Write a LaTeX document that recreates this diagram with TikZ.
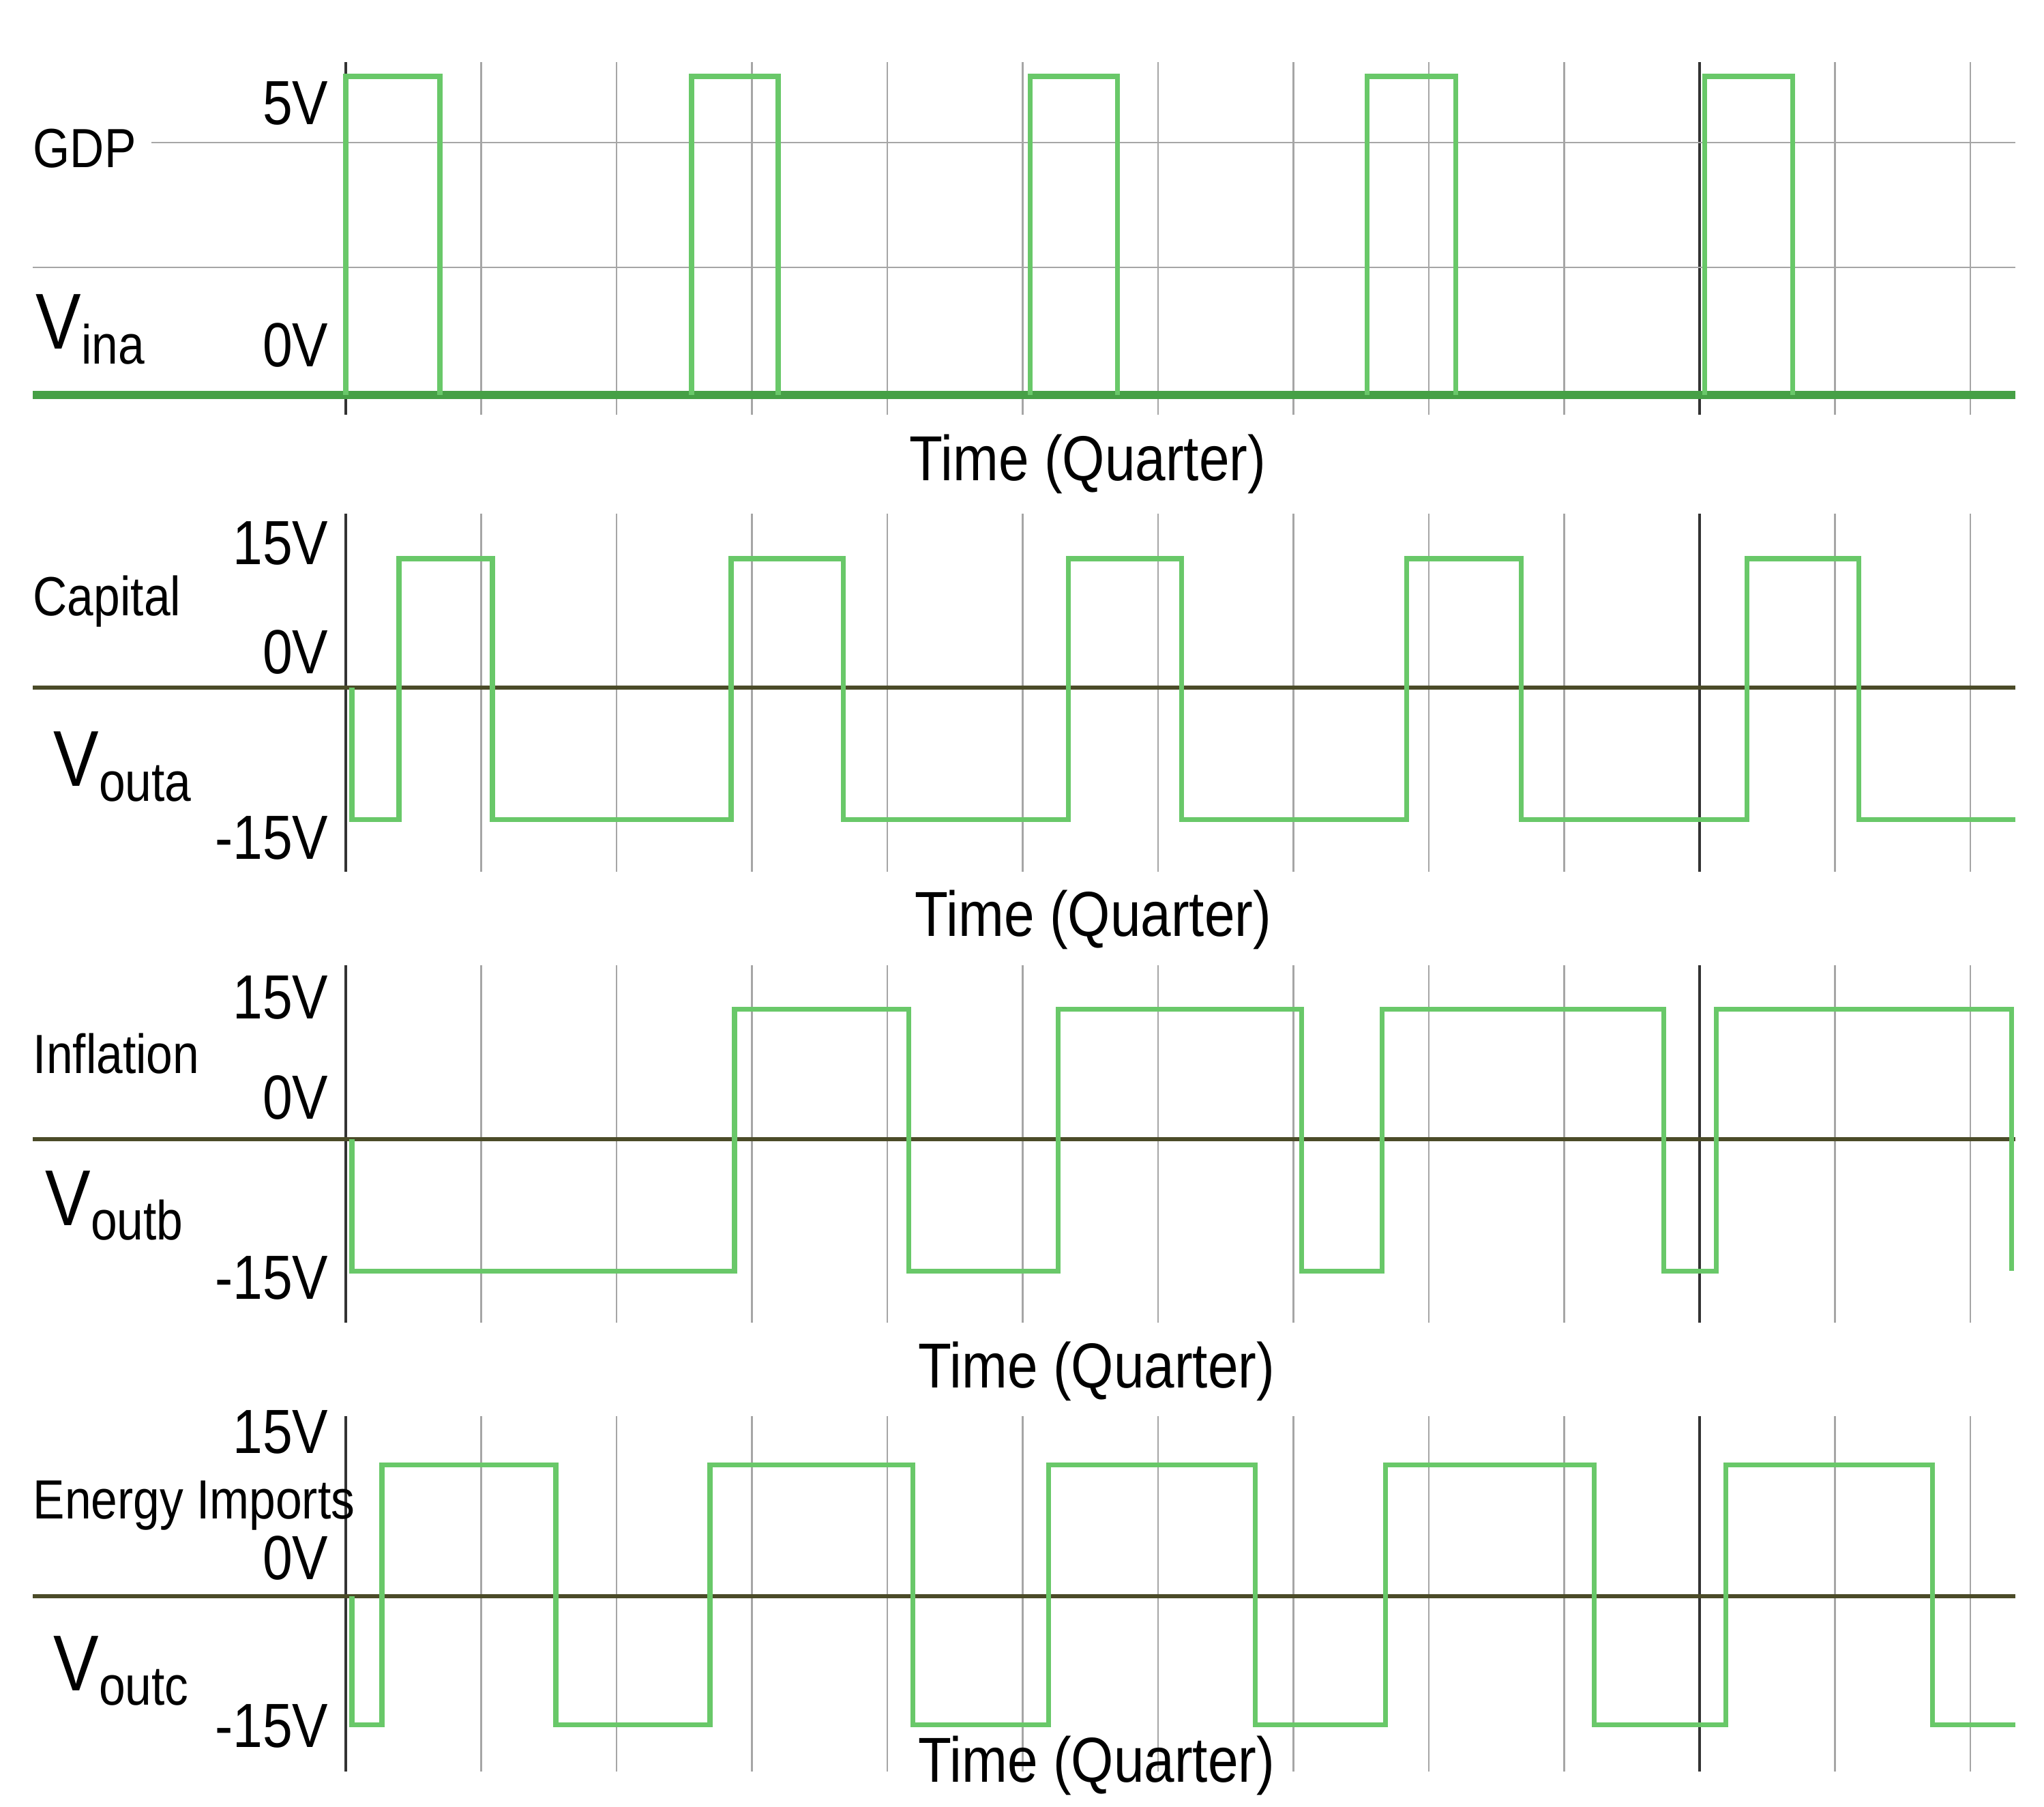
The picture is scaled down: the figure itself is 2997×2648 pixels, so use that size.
\documentclass[tikz,border=0pt]{standalone}
\usepackage{fontspec}
\setmainfont[FakeStretch=0.86]{Liberation Sans}
\definecolor{wv}{RGB}{105,200,105}
\definecolor{zc}{RGB}{75,75,40}
\definecolor{bc}{RGB}{70,160,70}
\begin{document}
\begin{tikzpicture}[x=0.01cm,y=-0.01cm,
  grid/.style={draw=gray!70,line width=0.6pt},
  axisv/.style={draw=black!80,line width=0.9pt},
  zero/.style={draw=zc,line width=1.8pt},
  wave/.style={draw=wv,line width=2pt,line join=miter},
  lbl/.style={inner sep=0pt,font=\fontsize{23}{25}\selectfont},
  tick/.style={inner sep=0pt,font=\fontsize{26}{28}\selectfont,anchor=east},
  vl/.style={inner sep=0pt,font=\fontsize{33}{35}\selectfont},
  tl/.style={inner sep=0pt,font=\fontsize{26.5}{28}\selectfont}]
\useasboundingbox[fill=white] (0,0) rectangle (2997,2648);
% ---------- vertical grid lines ----------
\foreach \t/\b in {91/608,753/1278,1415/1939,2076/2597}{
  \foreach \x in {705.5,904,1102.5,1301,1499.5,1698,1896.5,2095,2293.5,2690.5,2889}
    \draw[grid] (\x,\t) -- (\x,\b);
  \draw[axisv] (507,\t) -- (507,\b);
  \draw[axisv] (2492,\t) -- (2492,\b);
}
% ---------- panel 1 ----------
\draw[grid] (222,209) -- (2955,209);
\draw[grid] (48,392) -- (2955,392);
\draw[draw=bc,line width=3.2pt] (48,579) -- (2955,579);
\draw[wave] (507,579) -- (507,112) -- (645,112) -- (645,579)
  (1014,579) -- (1014,112) -- (1141,112) -- (1141,579)
  (1510,579) -- (1510,112) -- (1638,112) -- (1638,579)
  (2004,579) -- (2004,112) -- (2134,112) -- (2134,579)
  (2499,579) -- (2499,112) -- (2628,112) -- (2628,579);
\node[tick] (t1a) at (482,151) {5V};
\node[tick] (t1b) at (482,506) {0V};
\node[lbl,anchor=west] (gdp) at (48,218) {GDP};
\node[vl,anchor=west] (vina) at (52,483) {V{\fontsize{23}{25}\selectfont\raisebox{-6pt}{ina}}};
\node[tl] (time1) at (1595,680) {Time (Quarter)};
% ---------- panel 2 ----------
\draw[zero] (48,1008) -- (2955,1008);
\draw[wave] (516,1008) -- (516,1201) -- (585,1201) -- (585,819) -- (722,819) -- (722,1201)
  -- (1072,1201) -- (1072,819) -- (1236,819) -- (1236,1201) -- (1566,1201) -- (1566,819)
  -- (1732,819) -- (1732,1201) -- (2062,1201) -- (2062,819) -- (2230,819) -- (2230,1201)
  -- (2561,1201) -- (2561,819) -- (2725,819) -- (2725,1201) -- (2955,1201);
\node[tick] (t2a) at (482,796) {15V};
\node[tick] (t2b) at (482,956) {0V};
\node[tick] (t2c) at (482,1228) {-15V};
\node[lbl,anchor=west] (cap) at (48,882) {Capital};
\node[vl,anchor=west] (vouta) at (78,1124) {V{\fontsize{23}{25}\selectfont\raisebox{-6pt}{outa}}};
\node[tl] (time2) at (1603,1348) {Time (Quarter)};
% ---------- panel 3 ----------
\draw[zero] (48,1670) -- (2955,1670);
\draw[wave] (516,1670) -- (516,1863) -- (1077,1863) -- (1077,1479) -- (1332,1479) -- (1332,1863)
  -- (1551,1863) -- (1551,1479) -- (1908,1479) -- (1908,1863) -- (2026,1863) -- (2026,1479)
  -- (2439,1479) -- (2439,1863) -- (2516,1863) -- (2516,1479) -- (2949,1479) -- (2949,1863);
\node[tick] (t3a) at (482,1462) {15V};
\node[tick] (t3b) at (482,1609) {0V};
\node[tick] (t3c) at (482,1873) {-15V};
\node[lbl,anchor=west] (infl) at (48,1545) {Inflation};
\node[vl,anchor=west] (voutb) at (66,1767) {V{\fontsize{23}{25}\selectfont\raisebox{-6pt}{outb}}};
\node[tl] (time3) at (1608,2010) {Time (Quarter)};
% ---------- panel 4 ----------
\draw[zero] (48,2340) -- (2955,2340);
\draw[wave] (516,2340) -- (516,2528) -- (560,2528) -- (560,2147) -- (815,2147) -- (815,2528)
  -- (1041,2528) -- (1041,2147) -- (1338,2147) -- (1338,2528) -- (1537,2528) -- (1537,2147)
  -- (1840,2147) -- (1840,2528) -- (2031,2528) -- (2031,2147) -- (2337,2147) -- (2337,2528)
  -- (2530,2528) -- (2530,2147) -- (2833,2147) -- (2833,2528) -- (2955,2528);
\node[tick] (t4a) at (482,2099) {15V};
\node[tick] (t4b) at (482,2284) {0V};
\node[tick] (t4c) at (482,2530) {-15V};
\node[lbl,anchor=west] (energy) at (48,2207) {Energy Imports};
\node[vl,anchor=west] (voutc) at (78,2449) {V{\fontsize{23}{25}\selectfont\raisebox{-6pt}{outc}}};
\node[tl] (time4) at (1608,2588) {Time (Quarter)};
\end{tikzpicture}
\end{document}
